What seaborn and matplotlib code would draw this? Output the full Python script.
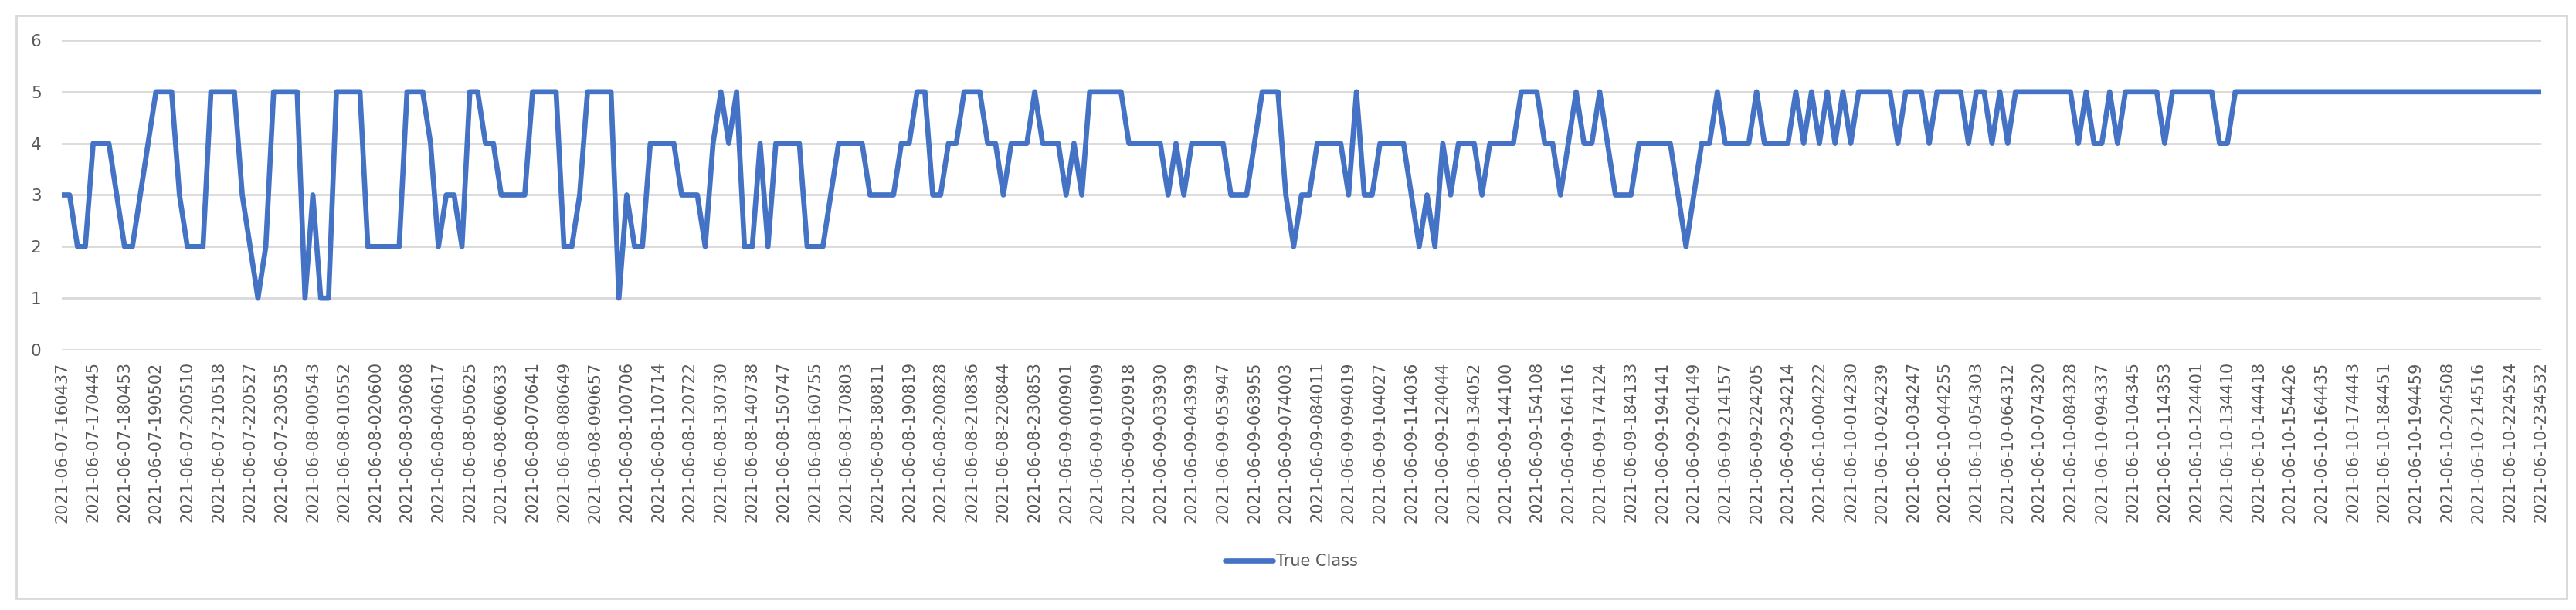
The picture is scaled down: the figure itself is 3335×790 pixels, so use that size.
import matplotlib
matplotlib.use("Agg")
import matplotlib.pyplot as plt
import seaborn as sns
import pandas as pd
from matplotlib.patches import Rectangle
from matplotlib.lines import Line2D

# True class per sample (one sample ~ every 15 min)
true_class = [
    3, 3, 2, 2, 4, 4, 4, 3, 2, 2, 3, 4, 5, 5, 5, 3, 2, 2, 2, 5,
    5, 5, 5, 3, 2, 1, 2, 5, 5, 5, 5, 1, 3, 1, 1, 5,
    5, 5, 5, 2, 2, 2, 2, 2, 5, 5, 5, 4, 2, 3, 3, 2, 5, 5, 4, 4,
    3, 3, 3, 3, 5, 5, 5, 5, 2, 2, 3, 5, 5, 5, 5, 1, 3, 2, 2, 4, 4, 4,
    4, 3, 3, 3, 2, 4, 5, 4, 5, 2, 2, 4, 2, 4, 4, 4, 4, 2, 2, 2,
    3, 4, 4, 4, 4, 3, 3, 3, 3, 4, 4, 5, 5, 3, 3, 4, 4, 5, 5, 5, 4, 4,
    3, 4, 4, 4, 5, 4, 4, 4, 3, 4, 3, 5, 5, 5, 5, 5, 4, 4, 4, 4,
    4, 3, 4, 3, 4, 4, 4, 4, 4, 3, 3, 3, 4, 5, 5, 5, 3, 2, 3, 3, 4,
    4, 4, 4, 3, 5, 3, 3, 4, 4, 4, 4, 3, 2, 3, 2, 4, 3, 4, 4, 4,
    3, 4, 4, 4, 4, 5, 5, 5, 4, 4, 3, 4, 5, 4, 4, 5, 4, 3, 3, 3,
    4, 4, 4, 4, 4, 3, 2, 3, 4, 4, 5, 4, 4, 4, 4, 5, 4, 4, 4, 4,
    5, 4, 5, 4, 5, 4, 5, 4, 5, 5, 5, 5, 5, 4, 5, 5, 5, 4, 5, 5, 5, 5, 4,
    5, 5, 4, 5, 4, 5, 5, 5, 5, 5, 5, 5, 5, 4, 5, 4, 4, 5, 4,
    5, 5, 5, 5, 5, 4, 5, 5, 5, 5, 5, 5, 4, 4,
    5, 5, 5, 5, 5, 5, 5, 5, 5, 5, 5, 5, 5, 5, 5, 5, 5, 5, 5, 5,
    5, 5, 5, 5, 5, 5, 5, 5, 5, 5, 5, 5, 5, 5, 5, 5, 5, 5, 5, 5,
]

tick_labels = [
    "2021-06-07-160437", "2021-06-07-170445", "2021-06-07-180453", "2021-06-07-190502",
    "2021-06-07-200510", "2021-06-07-210518", "2021-06-07-220527", "2021-06-07-230535",
    "2021-06-08-000543", "2021-06-08-010552", "2021-06-08-020600", "2021-06-08-030608",
    "2021-06-08-040617", "2021-06-08-050625", "2021-06-08-060633", "2021-06-08-070641",
    "2021-06-08-080649", "2021-06-08-090657", "2021-06-08-100706", "2021-06-08-110714",
    "2021-06-08-120722", "2021-06-08-130730", "2021-06-08-140738", "2021-06-08-150747",
    "2021-06-08-160755", "2021-06-08-170803", "2021-06-08-180811", "2021-06-08-190819",
    "2021-06-08-200828", "2021-06-08-210836", "2021-06-08-220844", "2021-06-08-230853",
    "2021-06-09-000901", "2021-06-09-010909", "2021-06-09-020918", "2021-06-09-033930",
    "2021-06-09-043939", "2021-06-09-053947", "2021-06-09-063955", "2021-06-09-074003",
    "2021-06-09-084011", "2021-06-09-094019", "2021-06-09-104027", "2021-06-09-114036",
    "2021-06-09-124044", "2021-06-09-134052", "2021-06-09-144100", "2021-06-09-154108",
    "2021-06-09-164116", "2021-06-09-174124", "2021-06-09-184133", "2021-06-09-194141",
    "2021-06-09-204149", "2021-06-09-214157", "2021-06-09-224205", "2021-06-09-234214",
    "2021-06-10-004222", "2021-06-10-014230", "2021-06-10-024239", "2021-06-10-034247",
    "2021-06-10-044255", "2021-06-10-054303", "2021-06-10-064312", "2021-06-10-074320",
    "2021-06-10-084328", "2021-06-10-094337", "2021-06-10-104345", "2021-06-10-114353",
    "2021-06-10-124401", "2021-06-10-134410", "2021-06-10-144418", "2021-06-10-154426",
    "2021-06-10-164435", "2021-06-10-174443", "2021-06-10-184451", "2021-06-10-194459",
    "2021-06-10-204508", "2021-06-10-214516", "2021-06-10-224524", "2021-06-10-234532",
]

y_ticks = [0, 1, 2, 3, 4, 5, 6]

LINE_COLOR = "#4472C4"
GRID_COLOR = "#D9D9D9"
TEXT_COLOR = "#595959"

sns.set_style("white")
plt.rcParams["font.family"] = ["DejaVu Sans"]

df = pd.DataFrame({"idx": range(len(true_class)), "True Class": true_class})

W, H = 3335, 790
fig = plt.figure(figsize=(W / 100, H / 100), dpi=100)
ax = fig.add_axes([80 / W, 1 - 453 / H, (3290 - 80) / W, (453 - 52) / H])

sns.lineplot(data=df, x="idx", y="True Class", ax=ax, color=LINE_COLOR,
             linewidth=4.8, solid_joinstyle="round", solid_capstyle="round")

ax.set_xlim(0, len(true_class) - 1)
ax.set_ylim(0, 6)
ax.set_yticks(y_ticks)
ax.set_yticklabels([str(v) for v in y_ticks])
ax.set_xticks(range(0, len(true_class), 4))
ax.set_xticklabels(tick_labels, rotation=90, ha="center", va="top")
ax.tick_params(axis="both", length=0, colors=TEXT_COLOR, labelsize=15)
ax.tick_params(axis="x", pad=11)
ax.tick_params(axis="y", pad=19, labelsize=15.5)
ax.set_xlabel("")
ax.set_ylabel("")

ax.yaxis.grid(True, color=GRID_COLOR, linewidth=2)
ax.xaxis.grid(False)
ax.set_axisbelow(True)
for s in ax.spines.values():
    s.set_visible(False)

# legend below the axes
handle = Line2D([0], [0], color=LINE_COLOR, linewidth=4.8, solid_capstyle="round")
fig.legend([handle], ["True Class"], loc="center", bbox_to_anchor=(1672 / W, 1 - 727 / H),
           frameon=False, fontsize=15, handlelength=3.0, handletextpad=0.2,
           labelcolor=TEXT_COLOR)

# chart area border
fig.patches.append(Rectangle((21 / W, 1 - 775 / H), (3323 - 21) / W, (775 - 20) / H,
                             transform=fig.transFigure, fill=False,
                             edgecolor=GRID_COLOR, linewidth=2))

fig.savefig("out.png", dpi=100, facecolor="white")
